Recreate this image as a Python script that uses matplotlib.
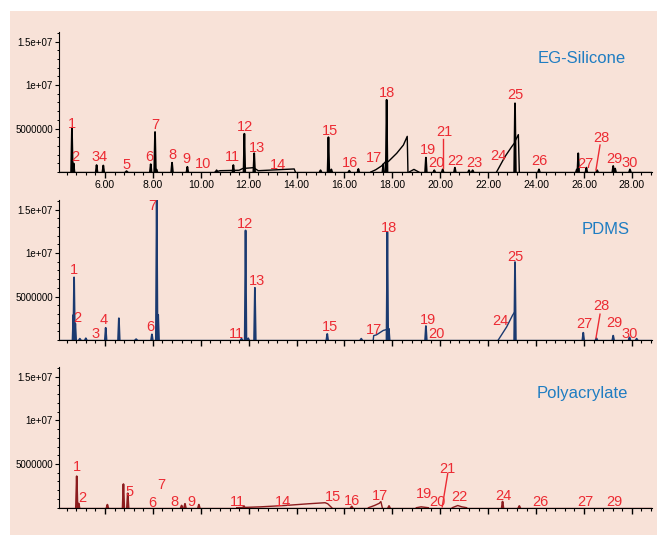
import numpy as np
import matplotlib.pyplot as plt
from matplotlib.patches import Rectangle
from matplotlib.ticker import MultipleLocator, FixedLocator, FixedFormatter

plt.rcParams['font.family'] = ['Liberation Sans', 'DejaVu Sans']

# ---- EG-Silicone (retention time in min, abundance) ----
sil_peak_t = [4.62, 4.69, 5.65, 5.93, 6.90, 7.91, 8.09, 8.15, 8.80, 9.44, 10.66,
              11.36, 11.82, 12.23, 15.00, 15.33, 15.45, 16.20, 16.58, 17.62,
              17.76, 19.40, 19.75, 20.10, 20.61, 21.20, 21.35, 23.12, 24.12,
              25.70, 25.76, 26.10, 26.55, 27.22, 27.30, 27.92]
sil_peak_h = [5.0e6, 1.0e6, 0.8e6, 0.75e6, 0.1e6, 0.9e6, 4.6e6, 0.3e6, 1.07e6,
              0.6e6, 0.2e6, 0.8e6, 4.4e6, 2.15e6, 0.2e6, 4.0e6, 0.3e6, 0.15e6,
              0.35e6, 0.9e6, 8.3e6, 1.65e6, 0.2e6, 0.3e6, 0.5e6, 0.2e6, 0.2e6,
              7.9e6, 0.3e6, 0.3e6, 2.15e6, 0.5e6, 0.2e6, 0.7e6, 0.4e6, 0.3e6]
sil_hump_t = [[10.6, 10.8, 11.6, 11.75, 12.2, 12.4, 13.9, 13.95],
              [17.1, 17.3, 17.55, 17.72, 17.83, 18.18, 18.46, 18.62, 18.65],
              [18.7, 18.9, 19.1],
              [22.35, 22.7, 22.98, 23.09],
              [23.15, 23.26, 23.30]]
sil_hump_v = [[0, 0.15e6, 0.2e6, 0.4e6, 0.5e6, 0.15e6, 0.35e6, 0],
              [0, 0.25e6, 0.7e6, 1.2e6, 1.2e6, 2.15e6, 3.1e6, 4.1e6, 0],
              [0, 0.3e6, 0],
              [0, 1.76e6, 2.9e6, 3.3e6],
              [3.7e6, 4.3e6, 0]]
sil_lab_num = list(range(1, 31))
sil_lab_t = [4.62, 4.75, 5.62, 5.92, 6.91, 7.84, 8.09, 8.80, 9.42, 10.09, 11.34,
             11.85, 12.35, 13.22, 15.39, 16.23, 17.23, 17.77, 19.49, 19.82, 20.15,
             20.61, 21.41, 22.41, 23.12, 24.12, 26.04, 26.71, 27.25, 27.92]
sil_lab_v = [5.52e6, 1.73e6, 1.73e6, 1.73e6, 0.8e6, 1.73e6, 5.4e6, 1.96e6, 1.5e6,
             0.92e6, 1.73e6, 5.18e6, 2.76e6, 0.8e6, 4.7e6, 1.04e6, 1.6e6, 9.1e6,
             2.5e6, 1.04e6, 4.6e6, 1.27e6, 1.04e6, 1.84e6, 8.86e6, 1.27e6, 0.92e6,
             3.9e6, 1.5e6, 1.04e6]
sil_leaders = [(20.10, 3.8e6, 20.10, 0.46e6), (26.67, 3.1e6, 26.50, 0.23e6)]

# ---- PDMS ----
pdms_peak_t = [4.68, 4.71, 4.76, 4.95, 5.20, 6.03, 6.58, 7.30, 7.96, 8.16, 8.22,
               11.70, 11.87, 11.98, 12.26, 15.28, 16.70, 17.79, 17.85, 19.40,
               23.12, 25.97, 26.52, 27.22, 27.90, 28.20]
pdms_peak_h = [2.9e6, 7.2e6, 1.9e6, 0.15e6, 0.2e6, 1.4e6, 2.5e6, 0.1e6, 0.65e6,
               1.62e7, 2.9e6, 0.15e6, 12.6e6, 0.2e6, 6.0e6, 0.7e6, 0.15e6, 12.4e6,
               1.3e6, 1.6e6, 8.96e6, 0.84e6, 0.2e6, 0.5e6, 0.3e6, 0.15e6]
pdms_hump_t = [[17.2, 17.22, 17.34, 17.62, 17.76],
               [22.42, 22.77, 23.02, 23.10]]
pdms_hump_v = [[0, 0.5e6, 0.6e6, 1.1e6, 1.2e6],
               [0, 1.5e6, 2.86e6, 3.2e6]]
pdms_lab_num = [1, 2, 3, 4, 6, 7, 11, 12, 13, 15, 17, 18, 19, 20, 24, 25, 27, 28, 29, 30]
pdms_lab_t = [4.71, 4.83, 5.62, 5.96, 7.88, 7.96, 11.47, 11.85, 12.35, 15.39,
              17.23, 17.86, 19.49, 19.82, 22.49, 23.12, 26.00, 26.71, 27.25, 27.92]
pdms_lab_v = [8.0e6, 2.5e6, 0.69e6, 2.29e6, 1.49e6, 15.4e6, 0.69e6, 13.3e6, 6.75e6,
              1.49e6, 1.14e6, 12.9e6, 2.29e6, 0.69e6, 2.17e6, 9.6e6, 1.83e6, 3.9e6,
              1.94e6, 0.69e6]
pdms_leaders = [(26.67, 2.97e6, 26.50, 0.23e6)]

# ---- Polyacrylate ----
poly_peak_t = [4.82, 4.90, 6.10, 6.77, 6.95, 9.20, 9.34, 9.92, 11.80, 16.30,
               17.86, 22.60, 23.30]
poly_peak_h = [3.6e6, 0.5e6, 0.35e6, 2.7e6, 1.65e6, 0.25e6, 0.45e6, 0.35e6,
               0.2e6, 0.15e6, 0.2e6, 0.7e6, 0.2e6]
poly_hump_t = [[11.5, 12.5, 13.5, 14.5, 15.19, 15.30, 15.47],
               [17.0, 17.25, 17.45, 17.52, 17.58],
               [19.0, 19.2, 19.5],
               [20.5, 20.73, 20.9, 21.1]]
poly_hump_v = [[0, 0.1e6, 0.25e6, 0.45e6, 0.57e6, 0.45e6, 0],
               [0, 0.25e6, 0.5e6, 0.7e6, 0],
               [0, 0.1e6, 0],
               [0, 0.25e6, 0.1e6, 0]]
poly_lab_num = [1, 2, 5, 6, 7, 8, 9, 11, 14, 15, 16, 17, 19, 20, 21, 22, 24, 26, 27, 29]
poly_lab_t = [4.83, 5.04, 7.04, 7.96, 8.34, 8.88, 9.63, 11.55, 13.43, 15.52, 16.31,
              17.48, 19.32, 19.90, 20.28, 20.78, 22.62, 24.20, 26.04, 27.25]
poly_lab_v = [4.68e6, 1.1e6, 1.8e6, 0.54e6, 2.6e6, 0.66e6, 0.66e6, 0.66e6, 0.66e6,
              1.23e6, 0.77e6, 1.35e6, 1.58e6, 0.66e6, 4.45e6, 1.23e6, 1.35e6,
              0.66e6, 0.66e6, 0.66e6]
poly_leaders = [(20.31, 3.9e6, 20.08, 0.1e6)]

ytick_vals = [5e6, 1e7, 1.5e7]
ytick_text = ['5000000', '1e+07', '1.5e+07']

BG = '#F8E2D8'
RED = '#EC2B33'
BLUE = '#1F7DC2'
XMIN, XMAX = 4.08, 28.84
YMAX = 1.61e7


def draw_panel(ax, pt, ph, hump_t, hump_v, lnum, lt, lv, leaders, color,
               name, name_pos, xlabels):
    half = 0.035
    ax.plot([XMIN, XMAX], [0, 0], color=color, lw=1.0)
    for t, h in zip(pt, ph):
        ax.plot([t - half, t, t + half], [0, h, 0], color=color, lw=1.3)
    for ht, hv in zip(hump_t, hump_v):
        ax.plot(ht, hv, color=color, lw=1.0)
    for n, t, v in zip(lnum, lt, lv):
        ax.text(t, v, str(n), color=RED, fontsize=10.5, ha='center', va='center')
    for x0, y0, x1, y1 in leaders:
        ax.plot([x0, x1], [y0, y1], color=RED, lw=1.0)
    ax.text(name_pos[0], name_pos[1], name, transform=ax.transAxes,
            color=BLUE, fontsize=12, ha='center', va='center')

    ax.set_xlim(XMIN, XMAX)
    ax.set_ylim(0, YMAX)
    ax.set_facecolor('none')
    for s in ['top', 'right']:
        ax.spines[s].set_visible(False)
    ax.xaxis.set_major_locator(MultipleLocator(2))
    ax.xaxis.set_minor_locator(MultipleLocator(0.4))
    ax.yaxis.set_major_locator(FixedLocator(ytick_vals))
    ax.yaxis.set_major_formatter(FixedFormatter(ytick_text))
    ax.yaxis.set_minor_locator(MultipleLocator(1e6))
    ax.tick_params(axis='x', which='major', length=4, width=1.0, pad=1.5,
                   labelsize=7.5, labelbottom=xlabels)
    ax.tick_params(axis='x', which='minor', length=2.2, width=0.8)
    ax.tick_params(axis='y', which='major', length=3, width=0.8, pad=1.5,
                   labelsize=7)
    ax.tick_params(axis='y', which='minor', length=1.8, width=0.7)
    ax.xaxis.set_major_formatter(plt.FuncFormatter(lambda v, p: '%.2f' % v))


fig = plt.figure(figsize=(6.57, 5.35), dpi=100)
fig.patch.set_facecolor('white')
fig.patches.append(Rectangle((10 / 657, 0), 1, 1 - 11 / 535, transform=fig.transFigure,
                             facecolor=BG, edgecolor='none', zorder=-5))

L, W = 59 / 657, 593 / 657
ax1 = fig.add_axes([L, (535 - 172) / 535, W, 140 / 535])
ax2 = fig.add_axes([L, (535 - 340) / 535, W, 140 / 535])
ax3 = fig.add_axes([L, (535 - 507.7) / 535, W, 140.7 / 535])

draw_panel(ax1, sil_peak_t, sil_peak_h, sil_hump_t, sil_hump_v, sil_lab_num,
           sil_lab_t, sil_lab_v, sil_leaders, 'black', 'EG-Silicone',
           (0.882, 0.814), True)
draw_panel(ax2, pdms_peak_t, pdms_peak_h, pdms_hump_t, pdms_hump_v, pdms_lab_num,
           pdms_lab_t, pdms_lab_v, pdms_leaders, '#1B3A70', 'PDMS',
           (0.921, 0.786), True)
draw_panel(ax3, poly_peak_t, poly_peak_h, poly_hump_t, poly_hump_v, poly_lab_num,
           poly_lab_t, poly_lab_v, poly_leaders, '#8C1C1E', 'Polyacrylate',
           (0.882, 0.815), False)

# lower part of the PDMS time labels is hidden in the original
ax2.add_patch(Rectangle((60 / 657, (535 - 362) / 535), 0.95, 14 / 535,
                        transform=fig.transFigure, facecolor=BG, edgecolor='none',
                        zorder=10, clip_on=False))

fig.savefig('out.png', dpi=100)
